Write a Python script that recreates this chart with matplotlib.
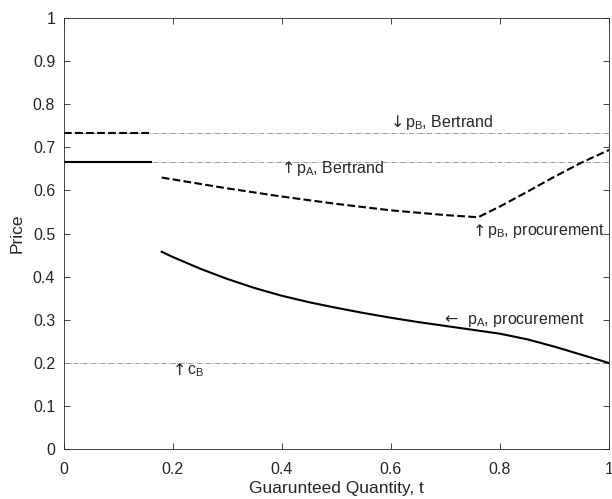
import matplotlib.pyplot as plt
from matplotlib.ticker import FixedLocator, FuncFormatter

plt.rcParams['font.family'] = ['Liberation Sans', 'DejaVu Sans']
plt.rcParams['mathtext.fontset'] = 'custom'
plt.rcParams['mathtext.rm'] = 'Liberation Sans'

# Bertrand prices and cost
pA_bertrand = 2 / 3
pB_bertrand = 0.7333
cB = 0.2
t_bertrand = [0, 0.16]

# procurement prices
t_pA = [0.18, 0.2, 0.25, 0.3, 0.35, 0.4, 0.45, 0.5, 0.55, 0.6, 0.65, 0.7, 0.75, 0.8, 0.85, 0.9, 0.95, 1.0]
pA_proc = [0.458, 0.446, 0.419, 0.395, 0.374, 0.356, 0.341, 0.328, 0.316, 0.305, 0.295, 0.286, 0.277, 0.268, 0.255, 0.238, 0.219, 0.2]

t_pB = [0.18, 0.3, 0.4, 0.5, 0.6, 0.7, 0.76, 0.8, 0.85, 0.9, 0.95, 1.0]
pB_proc = [0.630, 0.605, 0.586, 0.569, 0.554, 0.543, 0.538, 0.563, 0.597, 0.632, 0.665, 0.694]

labels = [
    (0.6, 0.757, '↓', 'p$_\\mathregular{B}$, Bertrand'),
    (0.4, 0.652, '↑', 'p$_\\mathregular{A}$, Bertrand'),
    (0.75, 0.505, '↑', 'p$_\\mathregular{B}$, procurement'),
    (0.698, 0.30, '←', 'p$_\\mathregular{A}$, procurement'),
    (0.2, 0.182, '↑', 'c$_\\mathregular{B}$'),
]

dark = '#262626'

fig = plt.figure(figsize=(6.12, 4.99), dpi=100)
ax = fig.add_axes([0.1038, 0.0996, 0.8914, 0.8644])

# reference lines
for lvl in [pB_bertrand, pA_bertrand, cB]:
    ax.plot([0, 1], [lvl, lvl], linestyle='-.', color='0.55', linewidth=0.6)

ax.plot(t_bertrand, [pB_bertrand] * 2, '--', color='k', linewidth=1.5)
ax.plot(t_bertrand, [pA_bertrand] * 2, '-', color='k', linewidth=1.5)
ax.plot(t_pB, pB_proc, '--', color='k', linewidth=1.5)
ax.plot(t_pA, pA_proc, '-', color='k', linewidth=1.5)

fs = 11.5
for x, y, arrow, txt in labels:
    ax.text(x, y, arrow, fontsize=fs, va='center', color=dark, family='DejaVu Sans')
    aw = 16 if arrow == '←' else 10
    ax.annotate(txt, (x, y), xytext=(aw, 0), textcoords='offset points',
                fontsize=fs, va='center', color=dark)

ax.set_xlim(0, 1)
ax.set_ylim(0, 1)
ax.xaxis.set_major_locator(FixedLocator([0, 0.2, 0.4, 0.6, 0.8, 1]))
ax.yaxis.set_major_locator(FixedLocator([i / 10 for i in range(11)]))
fmt = FuncFormatter(lambda v, p: '%g' % round(v, 2))
ax.xaxis.set_major_formatter(fmt)
ax.yaxis.set_major_formatter(fmt)
ax.tick_params(direction='in', top=True, right=True, length=4, width=0.6,
               colors=dark, labelsize=fs, pad=6)
ax.tick_params(axis='x', pad=9)
for s in ax.spines.values():
    s.set_color(dark)
    s.set_linewidth(0.6)

ax.set_xlabel('Guarunteed Quantity, t', fontsize=12.5, color=dark, labelpad=3)
ax.set_ylabel('Price', fontsize=12.5, color=dark, labelpad=6)

fig.savefig('out.png', dpi=100)
